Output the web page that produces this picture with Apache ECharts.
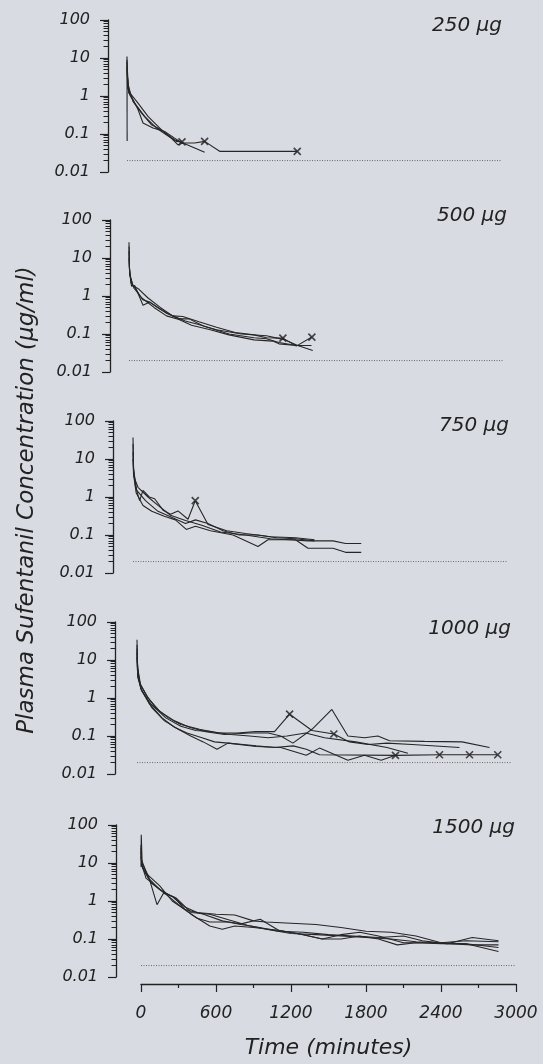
<!DOCTYPE html>
<html>
<head>
<meta charset="utf-8">
<script src="https://cdn.jsdelivr.net/npm/echarts@6/dist/echarts.min.js"></script>
<style>
html, body { margin: 0; background: #d9dbe3; }
#chart { width: 543px; height: 1064px; }
</style>
</head>
<body>
<div id="chart"></div>
<script>
// panel labels and axis ticks
const doses = ['250 μg', '500 μg', '750 μg', '1000 μg', '1500 μg']
const yTicks = [0.01, 0.1, 1, 10, 100]
const yMinorTicks = [0.02, 0.03, 0.04, 0.05, 0.06, 0.07, 0.08, 0.09,
    0.2, 0.3, 0.4, 0.5, 0.6, 0.7, 0.8, 0.9,
    2, 3, 4, 5, 6, 7, 8, 9,
    20, 30, 40, 50, 60, 70, 80, 90]
const xTicks = [0, 600, 1200, 1800, 2400, 3000]
// detection limit (dotted)
const limitLine = [[0, 0.02], [3000, 0.02]]

// [time min, conc ug/ml] per subject
const curves250 = [
    [[0, 11], [1, 0.065]],
    [[0, 9], [3, 3.3], [21, 1.08], [61, 0.65], [141, 0.29], [235, 0.144], [314, 0.096], [394, 0.064], [440, 0.062]],
    [[0, 6], [5, 1.6], [35, 0.98], [88, 0.44], [128, 0.195], [208, 0.144], [301, 0.117], [381, 0.078], [440, 0.058], [541, 0.058], [621, 0.064], [741, 0.035], [1362, 0.035]],
    [[0, 5], [8, 2.0], [48, 0.72], [115, 0.36], [195, 0.176], [274, 0.13], [381, 0.071], [448, 0.058], [621, 0.033]],
    [[0, 8], [3, 5], [13, 1.2], [35, 1.08], [88, 0.65], [168, 0.29], [274, 0.13], [354, 0.078], [408, 0.052], [448, 0.058]]
]
const marks250 = [[440, 0.062], [621, 0.064], [1362, 0.035]]

const curves500 = [
    [[0, 26], [3, 6], [15, 2.2], [50, 1.6], [110, 0.8], [160, 0.7], [250, 0.45], [350, 0.3], [430, 0.29], [560, 0.21], [700, 0.15], [850, 0.11], [1000, 0.095], [1100, 0.08], [1231, 0.078], [1338, 0.048], [1463, 0.083]],
    [[0, 20], [4, 5], [20, 1.8], [45, 1.9], [112, 0.57], [165, 0.7], [300, 0.35], [400, 0.25], [480, 0.25], [600, 0.16], [800, 0.1], [1000, 0.08], [1100, 0.075], [1200, 0.06], [1340, 0.05], [1460, 0.05]],
    [[0, 15], [5, 4], [30, 1.9], [80, 1.5], [150, 0.9], [250, 0.5], [350, 0.3], [450, 0.22], [550, 0.18], [700, 0.13], [900, 0.1], [1100, 0.09], [1250, 0.07], [1350, 0.05], [1470, 0.037]],
    [[0, 10], [6, 3.5], [40, 1.6], [100, 0.9], [200, 0.5], [300, 0.3], [400, 0.24], [500, 0.17], [650, 0.13], [800, 0.095], [1000, 0.07], [1150, 0.065], [1200, 0.055], [1340, 0.05], [1440, 0.05]]
]
const marks500 = [[1231, 0.078], [1463, 0.083]]

const curves750 = [
    [[0, 37], [4, 6], [20, 1.9], [53, 0.8], [80, 1.5], [130, 1.0], [173, 0.9], [240, 0.45], [300, 0.35], [360, 0.43], [440, 0.26], [498, 0.8], [600, 0.19], [750, 0.13], [900, 0.11], [1100, 0.09], [1300, 0.085], [1452, 0.075]],
    [[0, 25], [5, 5], [30, 1.5], [100, 0.8], [200, 0.42], [300, 0.3], [420, 0.2], [500, 0.25], [600, 0.2], [720, 0.13], [850, 0.1], [1000, 0.1], [1150, 0.085], [1300, 0.08], [1452, 0.07]],
    [[0, 15], [4, 4], [25, 1.3], [80, 0.6], [150, 0.42], [250, 0.31], [340, 0.25], [426, 0.14], [500, 0.17], [620, 0.13], [800, 0.1], [1000, 0.05], [1080, 0.075], [1300, 0.075], [1400, 0.045], [1600, 0.045], [1700, 0.035], [1826, 0.035]],
    [[0, 10], [6, 3.5], [40, 1.8], [120, 1.0], [200, 0.6], [300, 0.33], [420, 0.24], [550, 0.18], [700, 0.12], [900, 0.1], [1100, 0.08], [1250, 0.075], [1400, 0.07], [1600, 0.07], [1700, 0.06], [1826, 0.06]]
]
const marks750 = [[498, 0.8]]

const curves1000 = [
    [[0, 34], [3, 9], [20, 2.5], [80, 1.1], [150, 0.55], [250, 0.3], [350, 0.2], [500, 0.15], [650, 0.12], [800, 0.12], [950, 0.13], [1100, 0.13], [1221, 0.375], [1400, 0.14], [1575, 0.113], [1700, 0.07], [1850, 0.06], [2000, 0.065], [2200, 0.06], [2580, 0.05]],
    [[0, 25], [4, 6], [30, 2.2], [90, 1.0], [180, 0.45], [300, 0.25], [420, 0.17], [550, 0.13], [700, 0.11], [900, 0.12], [1050, 0.12], [1150, 0.1], [1247, 0.065], [1400, 0.15], [1559, 0.5], [1687, 0.1], [1820, 0.09], [1927, 0.1], [2020, 0.075], [2300, 0.072], [2600, 0.07], [2820, 0.05]],
    [[0, 20], [5, 5], [30, 1.8], [100, 0.7], [200, 0.3], [300, 0.17], [400, 0.12], [520, 0.09], [620, 0.07], [728, 0.065], [850, 0.06], [954, 0.055], [1100, 0.05], [1250, 0.055], [1354, 0.045], [1460, 0.032], [2068, 0.031], [2420, 0.032], [2660, 0.032], [2886, 0.032]],
    [[0, 12], [6, 3.5], [40, 1.5], [120, 0.55], [220, 0.25], [330, 0.15], [430, 0.1], [530, 0.07], [640, 0.045], [728, 0.065], [954, 0.053], [1150, 0.05], [1354, 0.031], [1460, 0.048], [1687, 0.023], [1820, 0.031], [1953, 0.023], [2068, 0.031]],
    [[0, 16], [5, 4], [35, 1.6], [110, 0.7], [230, 0.3], [350, 0.18], [470, 0.14], [600, 0.13], [750, 0.11], [900, 0.1], [1050, 0.09], [1200, 0.1], [1350, 0.12], [1500, 0.09], [1750, 0.07], [2000, 0.05], [2167, 0.035]]
]
const marks1000 = [[1221, 0.375], [1575, 0.113], [2068, 0.031], [2420, 0.032], [2660, 0.032], [2886, 0.032]]

const curves1500 = [
    [[0, 8], [2, 55], [10, 8], [60, 4], [150, 2.0], [250, 1.3], [350, 0.7], [450, 0.5], [600, 0.45], [750, 0.43], [900, 0.3], [1000, 0.28], [1200, 0.26], [1400, 0.24], [1600, 0.2], [1800, 0.16], [2000, 0.15], [2200, 0.12], [2400, 0.08], [2600, 0.075], [2860, 0.06]],
    [[0, 20], [5, 10], [60, 4.5], [128, 0.8], [180, 1.6], [260, 1.3], [350, 0.6], [450, 0.35], [550, 0.28], [700, 0.28], [800, 0.25], [954, 0.33], [1100, 0.17], [1300, 0.13], [1450, 0.1], [1600, 0.13], [1750, 0.15], [1900, 0.12], [2100, 0.08], [2300, 0.08], [2450, 0.075], [2650, 0.11], [2860, 0.09]],
    [[0, 15], [8, 8], [80, 3], [200, 1.5], [300, 0.8], [400, 0.45], [550, 0.22], [650, 0.18], [750, 0.22], [900, 0.2], [1100, 0.17], [1250, 0.14], [1450, 0.1], [1600, 0.1], [1750, 0.12], [1900, 0.1], [2050, 0.07], [2200, 0.08], [2400, 0.075], [2600, 0.075], [2860, 0.047]],
    [[0, 30], [4, 12], [50, 5], [150, 2.5], [250, 1.0], [350, 0.6], [500, 0.45], [650, 0.3], [800, 0.24], [950, 0.2], [1100, 0.16], [1300, 0.15], [1500, 0.13], [1700, 0.12], [1900, 0.11], [2100, 0.12], [2250, 0.09], [2450, 0.075], [2650, 0.07], [2860, 0.07]],
    [[0, 25], [6, 9], [40, 4], [180, 1.7], [280, 1.2], [400, 0.5], [550, 0.45], [700, 0.32], [850, 0.23], [1000, 0.18], [1200, 0.14], [1400, 0.13], [1600, 0.12], [1800, 0.11], [2000, 0.1], [2200, 0.085], [2400, 0.08], [2600, 0.09], [2860, 0.085]]
]
const marks1500 = []

const allCurves = [curves250, curves500, curves750, curves1000, curves1500]
const allMarks = [marks250, marks500, marks750, marks1000, marks1500]

// layout (page is a slightly skewed scan, so each panel sits a bit further right)
const panelLeft = [127, 129, 133, 137, 141]
const panelTop = [20, 220, 421, 622, 825]
const axisShift = [19, 19, 20, 22, 25]
const titleRight = [41, 36, 34, 32, 28]
const titleTop = [16, 206, 416, 619, 818]

const ink = '#222'
const font = 'DejaVu Sans'
const crossPath = 'path://M0,0L10,10M10,0L0,10'

let chart = echarts.init(document.getElementById('chart'), null, {renderer: 'canvas'})

let grids = [], xAxes = [], yAxes = [], series = [], titles = []

doses.forEach((dose, i) => {
    grids.push({left: panelLeft[i], top: panelTop[i], width: 375, height: 152})

    let last = i === doses.length - 1
    xAxes.push({
        gridIndex: i,
        type: 'value',
        min: xTicks[0],
        max: xTicks[xTicks.length - 1],
        interval: 600,
        show: last,
        offset: 7,
        axisLine: {show: true, onZero: false, lineStyle: {color: ink, width: 1.3}},
        axisTick: {show: true, length: 8, lineStyle: {color: ink, width: 1.2}},
        minorTick: {show: true, splitNumber: 2, length: 4, lineStyle: {color: ink, width: 1.2}},
        axisLabel: {
            fontFamily: font, fontStyle: 'italic', fontSize: 17, color: ink, margin: 21,
            formatter: v => String(v)
        },
        splitLine: {show: false},
        name: last ? 'Time (minutes)' : '',
        nameLocation: 'middle',
        nameGap: 53,
        nameTextStyle: {fontFamily: font, fontStyle: 'italic', fontSize: 22, color: ink}
    })

    yAxes.push({
        gridIndex: i,
        type: 'log',
        logBase: 10,
        min: yTicks[0],
        max: yTicks[yTicks.length - 1],
        position: 'left',
        offset: axisShift[i],
        axisLine: {show: true, onZero: false, lineStyle: {color: ink, width: 1.3}},
        axisTick: {show: true, length: 8, lineStyle: {color: ink, width: 1.2}},
        axisLabel: {fontFamily: font, fontStyle: 'italic', fontSize: 16, color: ink, margin: 18},
        splitLine: {show: false}
    })

    titles.push({
        text: dose,
        right: titleRight[i],
        top: titleTop[i],
        padding: 0,
        textStyle: {fontFamily: font, fontStyle: 'italic', fontWeight: 'normal', fontSize: 20, color: ink}
    })

    allCurves[i].forEach(curve => {
        series.push({
            type: 'line',
            xAxisIndex: i,
            yAxisIndex: i,
            data: curve,
            symbol: 'none',
            silent: true,
            lineStyle: {color: '#262626', width: 1.1}
        })
    })

    series.push({
        type: 'line',
        xAxisIndex: i,
        yAxisIndex: i,
        data: limitLine,
        symbol: 'none',
        silent: true,
        lineStyle: {color: '#6a6a6a', width: 1, type: [1, 1.5]}
    })

    series.push({
        type: 'scatter',
        xAxisIndex: i,
        yAxisIndex: i,
        data: allMarks[i],
        symbol: crossPath,
        symbolSize: 7,
        silent: true,
        itemStyle: {color: 'transparent', borderColor: '#1c1c1c', borderWidth: 1.6}
    })
})

// second set of y axes only for the log minor ticks
doses.forEach((dose, i) => {
    yAxes.push({
        gridIndex: i,
        type: 'log',
        logBase: 10,
        min: yTicks[0],
        max: yTicks[yTicks.length - 1],
        position: 'left',
        offset: axisShift[i],
        axisLine: {show: false, onZero: false},
        axisTick: {show: true, length: 4.5, customValues: yMinorTicks, lineStyle: {color: ink, width: 1}},
        axisLabel: {show: false},
        splitLine: {show: false}
    })
})

chart.setOption({
    backgroundColor: '#d9dbe3',
    animation: false,
    title: titles,
    grid: grids,
    xAxis: xAxes,
    yAxis: yAxes,
    series: series,
    graphic: [{
        type: 'text',
        x: 27,
        y: 500,
        rotation: Math.PI / 2,
        style: {
            text: 'Plasma Sufentanil Concentration (μg/ml)',
            font: 'italic 23px "DejaVu Sans"',
            fill: ink,
            align: 'center',
            verticalAlign: 'middle',
            textAlign: 'center',
            textVerticalAlign: 'middle'
        }
    }]
})
</script>
</body>
</html>
